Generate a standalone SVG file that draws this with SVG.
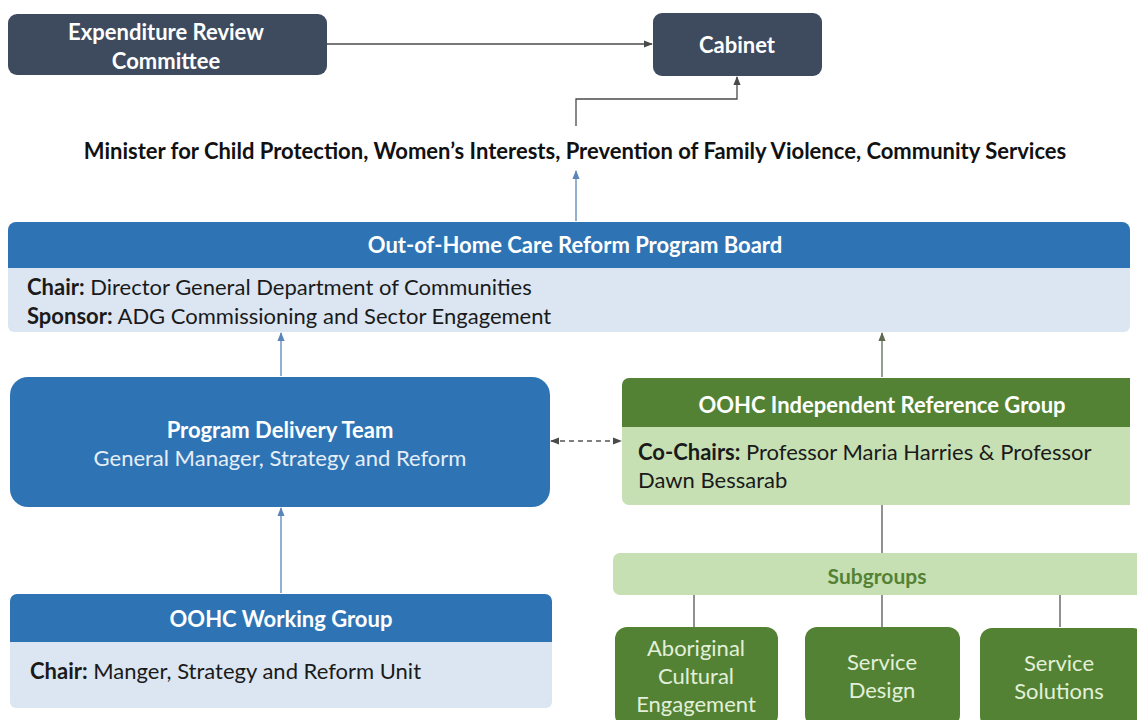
<svg xmlns="http://www.w3.org/2000/svg" width="1137" height="720" viewBox="0 0 1137 720">
  <defs>
    <marker id="arrDark" viewBox="0 0 10 10" refX="9" refY="5" markerWidth="7" markerHeight="7" orient="auto-start-reverse">
      <path d="M0,1 L10,5 L0,9 z" fill="#4a4a4a"/>
    </marker>
    <marker id="arrBlue" viewBox="0 0 10 10" refX="9" refY="5" markerWidth="7" markerHeight="7" orient="auto-start-reverse">
      <path d="M0,1 L10,5 L0,9 z" fill="#5b84b8"/>
    </marker>
    <marker id="arrGreen" viewBox="0 0 10 10" refX="9" refY="5" markerWidth="7" markerHeight="7" orient="auto-start-reverse">
      <path d="M0,1 L10,5 L0,9 z" fill="#5e6a50"/>
    </marker>
  </defs>
  <style>
    text { font-family: Lato, "Liberation Sans", sans-serif; }
    .dark { fill: #3e4b5f; }
    .blue { fill: #2e74b5; }
    .lblue { fill: #dbe6f2; }
    .green { fill: #548235; }
    .lgreen { fill: #c6e0b4; }
    .hw { fill: #ffffff; font-weight: bold; font-size: 22px; text-anchor: middle; }
    .body { fill: #1a1a1a; font-size: 22px; }
    .sub { fill: #e2f0d9; font-size: 22px; text-anchor: middle; }
    .ln { fill: none; stroke-width: 1.3; }
  </style>
  <rect width="1137" height="720" fill="#ffffff"/>

  <g id="connectors">
    <line class="ln" x1="327" y1="44" x2="652" y2="44" stroke="#4a4a4a" marker-end="url(#arrDark)"/>
    <polyline class="ln" points="576,126 576,99 737,99 737,77" stroke="#4a4a4a" marker-end="url(#arrDark)"/>
    <line class="ln" x1="576" y1="221" x2="576" y2="171" stroke="#5b84b8" marker-end="url(#arrBlue)"/>
    <line class="ln" x1="281" y1="376" x2="281" y2="333" stroke="#5b84b8" marker-end="url(#arrBlue)"/>
    <line class="ln" x1="882" y1="377" x2="882" y2="333" stroke="#5e6a50" marker-end="url(#arrGreen)"/>
    <line class="ln" x1="281" y1="593" x2="281" y2="508" stroke="#5b84b8" marker-end="url(#arrBlue)"/>
    <line class="ln" x1="551" y1="441" x2="621" y2="441" stroke="#555" stroke-dasharray="5,4" marker-start="url(#arrDark)" marker-end="url(#arrDark)"/>
    <line class="ln" x1="882" y1="505" x2="882" y2="553" stroke="#555"/>
    <line class="ln" x1="694" y1="595" x2="694" y2="627" stroke="#555"/>
    <line class="ln" x1="882" y1="595" x2="882" y2="627" stroke="#555"/>
    <line class="ln" x1="1060" y1="595" x2="1060" y2="627" stroke="#555"/>
  </g>

  <g id="erc">
    <rect class="dark" x="8" y="14" width="319" height="61" rx="9"/>
    <text class="hw" x="166" y="40">Expenditure Review</text>
    <text class="hw" x="166" y="69">Committee</text>
  </g>

  <g id="cabinet">
    <rect class="dark" x="653" y="13" width="169" height="63" rx="9"/>
    <text class="hw" x="737" y="53">Cabinet</text>
  </g>

  <g id="minister">
    <text x="575" y="159" font-size="22" font-weight="bold" fill="#111" text-anchor="middle">Minister for Child Protection, Women’s Interests, Prevention of Family Violence, Community Services</text>
  </g>

  <g id="board">
    <path class="lblue" d="M8,262 H1130 V326 a6,6 0 0 1 -6,6 H14 a6,6 0 0 1 -6,-6 z"/>
    <path class="blue" d="M8,230 a8,8 0 0 1 8,-8 H1122 a8,8 0 0 1 8,8 V268 H8 z"/>
    <text class="hw" x="575" y="253">Out-of-Home Care Reform Program Board</text>
    <text class="body" x="27" y="295"><tspan font-weight="bold">Chair:</tspan> Director General Department of Communities</text>
    <text class="body" x="27" y="324"><tspan font-weight="bold">Sponsor:</tspan> ADG Commissioning and Sector Engagement</text>
  </g>

  <g id="delivery">
    <rect class="blue" x="10" y="377" width="540" height="130" rx="18"/>
    <text class="hw" x="280" y="438">Program Delivery Team</text>
    <text x="280" y="466" font-size="22" fill="#e6eef7" text-anchor="middle">General Manager, Strategy and Reform</text>
  </g>

  <g id="irg">
    <path class="lgreen" d="M622,420 H1130 V505 H629 a7,7 0 0 1 -7,-7 z"/>
    <path class="green" d="M622,385 a7,7 0 0 1 7,-7 H1130 V427 H622 z"/>
    <text class="hw" x="882" y="413">OOHC Independent Reference Group</text>
    <text class="body" x="638" y="460"><tspan font-weight="bold">Co-Chairs:</tspan> Professor Maria Harries &amp; Professor</text>
    <text class="body" x="638" y="488">Dawn Bessarab</text>
  </g>

  <g id="subgroups">
    <rect class="lgreen" x="613" y="553" width="530" height="42" rx="7"/>
    <text x="877" y="584" font-size="21" font-weight="bold" fill="#548235" text-anchor="middle">Subgroups</text>
  </g>

  <g id="aboriginal">
    <rect class="green" x="615" y="627" width="163" height="100" rx="12"/>
    <text class="sub" x="696" y="656">Aboriginal</text>
    <text class="sub" x="696" y="684">Cultural</text>
    <text class="sub" x="696" y="712">Engagement</text>
  </g>

  <g id="design">
    <rect class="green" x="805" y="627" width="155" height="100" rx="12"/>
    <text class="sub" x="882" y="670">Service</text>
    <text class="sub" x="882" y="698">Design</text>
  </g>

  <g id="solutions">
    <rect class="green" x="980" y="628" width="165" height="100" rx="12"/>
    <text class="sub" x="1059" y="671">Service</text>
    <text class="sub" x="1059" y="699">Solutions</text>
  </g>

  <g id="working">
    <path class="lblue" d="M10,636 H552 V702 a6,6 0 0 1 -6,6 H16 a6,6 0 0 1 -6,-6 z"/>
    <path class="blue" d="M10,601 a7,7 0 0 1 7,-7 H545 a7,7 0 0 1 7,7 V642 H10 z"/>
    <text class="hw" x="281" y="627">OOHC Working Group</text>
    <text class="body" x="30" y="679"><tspan font-weight="bold">Chair:</tspan> Manger, Strategy and Reform Unit</text>
  </g>
</svg>
